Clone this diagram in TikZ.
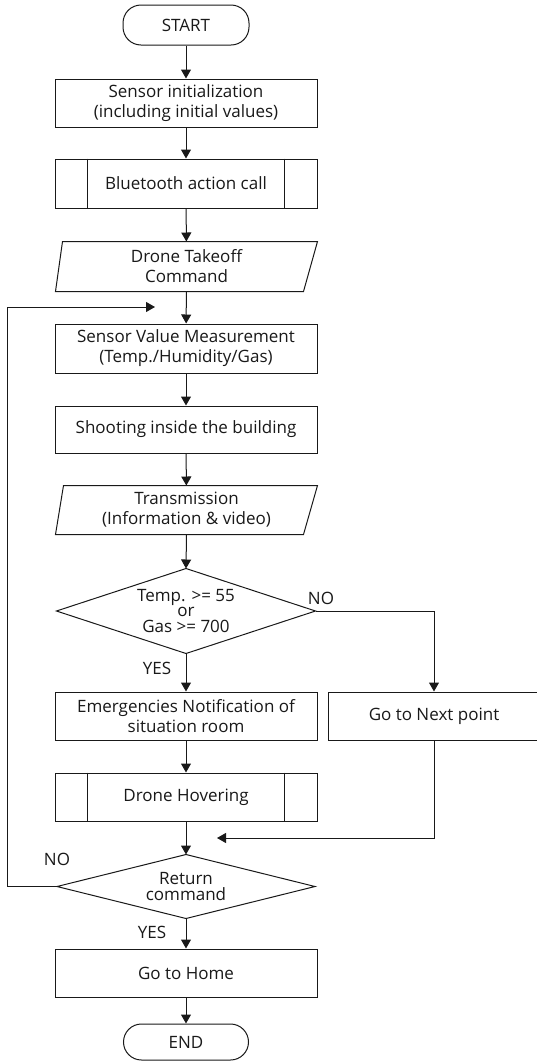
\documentclass[tikz,border=0pt]{standalone}
\usepackage{fontspec}
\setmainfont{Open Sans}
\usetikzlibrary{arrows.meta}
\begin{document}
\begin{tikzpicture}[x=1pt,y=-1pt,
  line width=1pt, color=black!90,
  every node/.style={font=\fontsize{17}{20}\selectfont, inner sep=0pt, align=center},
  procbox/.style={draw, rectangle, minimum width=262pt, minimum height=48pt},
  iobox/.style={rectangle, minimum width=261pt, minimum height=49pt},
  decbox/.style={rectangle, minimum width=258pt, minimum height=84pt},
  termbox/.style={draw, rectangle, rounded corners=18pt, minimum width=126pt, minimum height=40pt},
  lbl/.style={font=\fontsize{17}{17}\selectfont},
  arr/.style={-{Triangle[length=9pt,width=10pt]}}
]
\fill[white] (0,0) rectangle (536,1061);
\useasboundingbox (0,0) rectangle (536,1061);

\node[termbox] (start) at (186,25) {START};
\node[procbox] (init) at (186,103) {Sensor initialization\\(including initial values)};
\node[procbox, minimum height=49pt] (bt) at (186,183.5) {Bluetooth action call};
\node[iobox] (takeoff) at (186.5,266.5) {Drone Takeoff\\Command};
\node[procbox, minimum height=49pt] (meas) at (186,348.5) {Sensor Value Measurement\\(Temp./Humidity/Gas)};
\node[procbox, minimum height=47pt] (shoot) at (186,429.5) {Shooting inside the building};
\node[iobox, minimum height=48pt] (trans) at (186.5,510) {Transmission\\(Information \& video)};
\node[decbox] (d1) at (186,611) {Temp. >= 55\\[-5pt]or\\[-4pt]Gas >= 700};
\node[procbox] (emerg) at (186,716) {Emergencies Notification of\\situation room};
\node[procbox, minimum width=212pt] (next) at (434,716) {Go to Next point};
\node[procbox] (hover) at (186,797) {Drone Hovering};
\node[decbox, minimum width=257pt, minimum height=63pt] (d2) at (186,886.5) {Return\\[-4pt]command};
\node[procbox] (home) at (186,973) {Go to Home};
\node[termbox, minimum width=125pt, minimum height=36pt] (end) at (186,1042) {END};

% predefined process side bars
\foreach \n in {bt,hover}{
  \draw ([xshift=33pt]\n.north west) -- ([xshift=33pt]\n.south west);
  \draw ([xshift=-33pt]\n.north east) -- ([xshift=-33pt]\n.south east);
}
% input/output shapes
\draw ([xshift=7pt]takeoff.north west) -- (takeoff.north east) -- ([xshift=-14pt]takeoff.south east) -- (takeoff.south west) -- cycle;
\draw ([xshift=8pt]trans.north west) -- (trans.north east) -- ([xshift=-14pt]trans.south east) -- (trans.south west) -- cycle;
% decisions
\draw (d1.north) -- (d1.east) -- (d1.south) -- (d1.west) -- cycle;
\draw (d2.north) -- (d2.east) -- (d2.south) -- (d2.west) -- cycle;

% connectors
\draw[arr] (start) -- (init);
\draw[arr] (init) -- (bt);
\draw[arr] (bt) -- (takeoff);
\draw[arr] (takeoff) -- (meas);
\draw[arr] (meas) -- (shoot);
\draw[arr] (shoot) -- (trans);
\draw[arr] (trans.south) -- (d1.north);
\draw[arr] (d1.south) -- (emerg.north);
\draw[arr] (d1.east) -| (next.north);
\draw[arr] (emerg) -- (hover);
\coordinate (merge) at (217,838);
\draw[arr] (next.south) |- (merge);
\draw[arr] (hover.south) -- (d2.north);
\coordinate (loopin) at (155,307);
\draw[arr] (d2.west) -| ([xshift=-148pt]loopin) -- (loopin);
\draw[arr] (d2.south) -- (home.north);
\draw[arr] (home) -- (end);

% labels
\node[lbl] (no1) at (321,598) {NO};
\node[lbl] (yes1) at (157,668) {YES};
\node[lbl] (no2) at (57,859) {NO};
\node[lbl] (yes2) at (152,932) {YES};
\end{tikzpicture}
\end{document}
